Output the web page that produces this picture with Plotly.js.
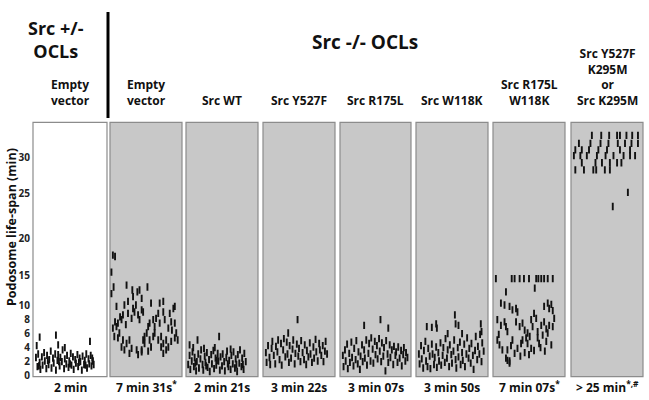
<!DOCTYPE html>
<html><head><meta charset="utf-8">
<script src="https://cdn.plot.ly/plotly-3.0.1.min.js"></script>
<style>html,body{margin:0;padding:0;background:#fff}#chart{width:649px;height:400px}</style>
</head><body><div id="chart"></div>
<script>
// ---------- DATA (x = position across panel 0..1, y = podosome life-span in minutes) ----------
const panelLabels = ["Empty<br>vector","Empty<br>vector","Src WT","Src Y527F","Src R175L","Src W118K","Src R175L<br>W118K","Src Y527F<br>K295M<br>or<br>Src K295M"];
const meanLabels = ["2 min","7 min 31s<sup>*</sup>","2 min 21s","3 min 22s","3 min 07s","3 min 50s","7 min 07s<sup>*</sup>","> 25 min<sup>*,#</sup>"];
const yTickValues = [0,2,4,6,8,10,15,20,25,30];

const emptyVectorHet = [[0.04,2.5],[0.06,1.2],[0.07,3.0],[0.09,1.8],[0.10,0.8],[0.12,2.6],[0.13,1.4],[0.15,3.2],[0.16,2.0],[0.18,0.9],[0.19,2.8],[0.21,1.5],[0.22,2.2],[0.24,3.4],[0.25,1.0],[0.27,2.4],[0.28,1.7],[0.30,3.0],[0.31,0.7],[0.33,2.1],[0.34,2.9],[0.36,1.3],[0.37,2.5],[0.39,1.9],[0.40,3.6],[0.42,0.9],[0.43,2.3],[0.45,1.6],[0.46,2.8],[0.48,1.1],[0.49,2.0],[0.51,3.1],[0.52,1.4],[0.54,2.6],[0.55,0.8],[0.57,2.2],[0.58,1.7],[0.60,2.9],[0.61,1.2],[0.63,2.4],[0.64,1.9],[0.66,0.7],[0.67,2.7],[0.69,1.5],[0.70,2.1],[0.72,3.0],[0.73,1.0],[0.75,2.3],[0.76,1.6],[0.78,2.8],[0.79,1.3],[0.81,2.0],[0.82,1.5],[0.05,4.2],[0.09,5.4],[0.31,5.7],[0.34,4.3],[0.43,3.9],[0.77,4.8],[0.08,1.3],[0.20,2.1],[0.35,1.9],[0.50,1.6],[0.62,1.8],[0.71,1.4],[0.80,2.4]];

const emptyVectorKO = [[0.04,17.7],[0.07,17.5],[0.02,15.4],[0.02,11.9],[0.05,13.0],[0.23,13.3],[0.31,12.5],[0.38,12.2],[0.41,12.5],[0.52,13.0],[0.32,11.4],[0.44,11.1],[0.57,10.3],[0.69,10.3],[0.74,10.6],[0.90,9.8],[0.09,9.8],[0.20,10.0],[0.25,10.6],[0.32,9.5],[0.36,10.0],[0.44,9.3],[0.46,9.0],[0.18,8.6],[0.16,7.9],[0.11,7.4],[0.07,7.6],[0.25,8.8],[0.30,8.1],[0.34,9.0],[0.39,8.6],[0.41,7.9],[0.60,7.9],[0.64,8.1],[0.67,8.8],[0.74,9.0],[0.83,8.8],[0.88,9.5],[0.55,7.4],[0.53,6.9],[0.62,6.9],[0.69,7.4],[0.76,7.9],[0.81,6.7],[0.85,7.6],[0.90,7.4],[0.04,6.7],[0.09,6.9],[0.13,6.0],[0.11,5.3],[0.06,5.5],[0.18,5.0],[0.23,4.5],[0.16,4.0],[0.20,3.6],[0.27,5.0],[0.30,3.8],[0.37,3.6],[0.44,3.3],[0.46,5.0],[0.48,5.5],[0.51,6.0],[0.48,4.5],[0.55,5.0],[0.60,5.5],[0.62,6.0],[0.67,5.0],[0.71,5.5],[0.74,4.5],[0.78,5.0],[0.81,4.0],[0.85,4.8],[0.90,5.3],[0.94,5.0],[0.92,6.0],[0.78,3.6],[0.74,3.1],[0.71,4.0],[0.57,4.0],[0.27,3.1],[0.39,2.9],[0.44,3.6],[0.53,3.4],[0.86,6.4],[0.14,8.3],[0.22,7.2]];

const srcWT = [[0.03,1.5],[0.05,2.8],[0.06,0.8],[0.08,2.0],[0.09,3.3],[0.11,1.2],[0.12,2.5],[0.14,0.6],[0.15,1.9],[0.17,3.0],[0.18,1.0],[0.20,2.3],[0.21,3.6],[0.23,1.5],[0.24,0.7],[0.26,2.7],[0.27,1.8],[0.29,3.2],[0.30,1.1],[0.32,2.2],[0.33,0.5],[0.35,2.9],[0.36,1.6],[0.38,3.5],[0.39,0.9],[0.41,2.4],[0.42,1.4],[0.44,3.1],[0.45,2.0],[0.47,0.7],[0.48,2.6],[0.50,1.3],[0.51,3.0],[0.53,1.9],[0.54,0.6],[0.56,2.5],[0.57,3.4],[0.59,1.2],[0.60,2.1],[0.62,0.8],[0.63,2.8],[0.65,1.6],[0.66,3.3],[0.68,1.0],[0.69,2.3],[0.71,0.5],[0.72,2.9],[0.74,1.7],[0.75,3.6],[0.77,1.2],[0.78,2.4],[0.80,0.8],[0.81,3.1],[0.83,1.9],[0.05,4.3],[0.16,5.0],[0.46,5.5],[0.10,3.9],[0.25,3.8],[0.40,3.9],[0.62,3.7],[0.13,1.7],[0.28,1.3],[0.43,2.1],[0.58,1.6],[0.70,1.5],[0.79,1.5]];

const srcY527F = [[0.04,3.2],[0.05,1.8],[0.07,4.2],[0.09,2.5],[0.10,1.5],[0.12,3.8],[0.13,4.8],[0.15,2.8],[0.17,1.6],[0.18,4.1],[0.20,3.3],[0.21,5.0],[0.23,2.2],[0.25,4.5],[0.26,1.4],[0.28,3.6],[0.29,5.2],[0.31,2.6],[0.33,4.7],[0.34,3.0],[0.36,1.8],[0.37,4.2],[0.39,2.4],[0.41,3.7],[0.42,5.0],[0.44,1.6],[0.45,3.1],[0.47,4.4],[0.49,2.7],[0.50,3.8],[0.52,1.9],[0.53,4.9],[0.55,3.2],[0.57,2.2],[0.58,4.3],[0.60,1.5],[0.61,3.5],[0.63,2.6],[0.65,4.6],[0.66,3.0],[0.68,1.8],[0.70,4.0],[0.71,2.4],[0.73,5.1],[0.74,3.3],[0.76,2.0],[0.78,4.5],[0.79,3.6],[0.81,2.8],[0.83,4.2],[0.84,1.9],[0.86,3.4],[0.87,4.8],[0.89,3.0],[0.35,6.0],[0.48,7.9]];

const srcR175L = [[0.04,2.8],[0.05,1.2],[0.07,3.6],[0.08,2.0],[0.10,4.4],[0.11,0.9],[0.13,3.1],[0.14,1.8],[0.16,4.7],[0.17,2.5],[0.19,1.3],[0.20,3.8],[0.22,2.2],[0.23,4.9],[0.25,1.6],[0.26,3.3],[0.28,0.8],[0.29,2.7],[0.31,4.3],[0.32,1.9],[0.34,3.6],[0.35,2.4],[0.37,5.0],[0.38,1.4],[0.40,3.1],[0.41,4.5],[0.43,2.0],[0.44,5.3],[0.46,3.7],[0.47,1.7],[0.49,4.8],[0.50,2.9],[0.52,4.2],[0.53,2.3],[0.55,5.2],[0.56,3.4],[0.58,1.9],[0.59,4.6],[0.61,2.7],[0.62,3.9],[0.64,0.6],[0.65,4.9],[0.67,3.0],[0.68,1.8],[0.70,4.3],[0.71,2.5],[0.73,3.6],[0.75,1.5],[0.76,4.1],[0.78,2.8],[0.79,3.3],[0.81,1.8],[0.82,4.0],[0.84,2.4],[0.86,3.5],[0.87,1.3],[0.89,2.9],[0.90,3.9],[0.92,2.0],[0.93,3.2],[0.95,2.5],[0.34,7.1],[0.57,7.9],[0.68,6.7]];

const srcW118K = [[0.04,3.0],[0.05,1.6],[0.07,4.2],[0.08,2.3],[0.10,1.0],[0.11,3.5],[0.13,4.8],[0.14,2.0],[0.16,1.2],[0.17,3.8],[0.19,2.7],[0.20,0.9],[0.22,4.4],[0.23,3.0],[0.25,1.5],[0.26,2.5],[0.28,4.0],[0.29,1.1],[0.31,3.2],[0.32,2.0],[0.34,4.6],[0.35,1.4],[0.37,2.8],[0.38,3.9],[0.40,1.8],[0.41,5.2],[0.43,2.4],[0.44,3.6],[0.46,1.2],[0.47,4.3],[0.49,2.9],[0.50,1.7],[0.52,3.4],[0.53,5.0],[0.55,2.2],[0.56,1.0],[0.58,3.9],[0.59,2.6],[0.61,4.7],[0.62,1.5],[0.64,3.2],[0.65,2.1],[0.67,4.4],[0.68,1.2],[0.70,3.0],[0.71,5.3],[0.73,2.4],[0.74,3.8],[0.76,1.7],[0.77,4.5],[0.79,2.8],[0.80,0.8],[0.82,3.5],[0.83,5.5],[0.85,2.2],[0.86,4.1],[0.88,3.0],[0.89,5.8],[0.91,1.9],[0.92,4.6],[0.94,3.4],[0.54,8.6],[0.55,7.3],[0.59,7.1],[0.15,6.9],[0.22,6.8],[0.28,7.3],[0.29,6.7],[0.90,7.3],[0.91,6.2],[0.44,5.9],[0.64,5.9]];

const srcR175LW118K = [[0.04,14.4],[0.26,14.4],[0.30,14.4],[0.37,14.4],[0.43,14.4],[0.50,14.4],[0.60,14.4],[0.63,14.4],[0.67,14.4],[0.71,14.4],[0.76,14.4],[0.83,14.4],[0.58,12.8],[0.18,12.2],[0.11,10.3],[0.16,10.0],[0.23,9.8],[0.27,9.3],[0.32,9.5],[0.34,9.0],[0.71,9.8],[0.76,10.3],[0.78,9.5],[0.81,10.1],[0.83,9.2],[0.06,7.9],[0.11,7.1],[0.16,7.6],[0.18,6.9],[0.20,6.2],[0.32,7.6],[0.37,6.9],[0.41,7.4],[0.44,6.4],[0.48,6.0],[0.53,7.9],[0.57,8.8],[0.60,8.1],[0.55,6.9],[0.62,6.2],[0.67,7.1],[0.71,7.6],[0.74,6.6],[0.78,7.1],[0.83,6.9],[0.85,8.1],[0.06,5.0],[0.09,4.3],[0.13,3.6],[0.18,2.4],[0.23,2.0],[0.20,3.6],[0.27,5.0],[0.34,3.8],[0.39,4.5],[0.41,5.0],[0.46,5.3],[0.48,4.5],[0.51,5.5],[0.53,3.8],[0.62,5.3],[0.64,4.5],[0.69,5.7],[0.74,4.8],[0.76,6.0],[0.81,4.3],[0.25,4.2],[0.30,3.1],[0.44,3.2],[0.57,3.5],[0.66,3.9],[0.72,3.4],[0.20,2.1],[0.23,1.7],[0.08,5.8],[0.38,2.7],[0.50,2.9]];

const srcK295M = [[0.29,33.0],[0.42,33.0],[0.53,33.0],[0.64,33.0],[0.68,33.0],[0.77,33.0],[0.85,33.0],[0.93,33.0],[0.11,31.9],[0.27,31.9],[0.41,31.9],[0.52,31.9],[0.65,31.9],[0.75,31.9],[0.84,31.9],[0.93,31.9],[0.06,31.0],[0.15,31.0],[0.25,31.0],[0.38,31.0],[0.50,31.0],[0.68,31.0],[0.82,31.0],[0.04,30.2],[0.13,30.2],[0.22,30.2],[0.36,30.2],[0.48,30.2],[0.59,30.2],[0.73,30.2],[0.82,30.2],[0.89,30.2],[0.15,29.2],[0.34,29.2],[0.43,29.2],[0.54,29.2],[0.64,29.2],[0.70,29.2],[0.06,28.2],[0.18,28.2],[0.31,28.2],[0.35,28.2],[0.47,28.2],[0.54,28.2],[0.79,25.1],[0.58,23.5]];

const panelData = [emptyVectorHet, emptyVectorKO, srcWT, srcY527F, srcR175L, srcW118K, srcR175LW118K, srcK295M];

// ---------- SCALE: the figure's y axis is piecewise (minutes -> axis units) ----------
const knotMin = [0,10,15,20,25,30,35];
const knotUnit = [0,70,100,137,182,218,254];
function yScale(v){
  for (let i=1;i<knotMin.length;i++){
    if (v<=knotMin[i]){ const t=(v-knotMin[i-1])/(knotMin[i]-knotMin[i-1]); return knotUnit[i-1]+t*(knotUnit[i]-knotUnit[i-1]); }
  }
  return knotUnit[knotUnit.length-1];
}

// ---------- LAYOUT ----------
const W=649,H=400;
const px = x => x/W, py = y => 1-y/H;
const panelPx = [[33,107],[110,182],[186,258],[263,335],[340,411],[416,488],[493,565],[571,643]];
const yDom = [py(376.7), py(122.3)];
const traces=[], layout={
  width:W, height:H, margin:{l:0,r:0,t:0,b:0}, paper_bgcolor:'#fff', plot_bgcolor:'rgba(0,0,0,0)',
  showlegend:false, shapes:[], annotations:[],
  font:{family:'Open Sans, DejaVu Sans, sans-serif', color:'#111'}
};
layout.yaxis = {domain:yDom, range:[-1.7,252.7], tickvals:yTickValues.map(yScale), ticktext:yTickValues.map(String),
  showgrid:false, zeroline:false, showline:false, ticks:'', ticklabelstandoff:2, tickfont:{size:10, weight:'bold', color:'#222'}, anchor:'x', fixedrange:true};
panelData.forEach((d,i)=>{
  const ax = i===0?'x':'x'+(i+1);
  const key = i===0?'xaxis':'xaxis'+(i+1);
  layout[key] = {domain:[px(panelPx[i][0]),px(panelPx[i][1])], range:[0,1], showgrid:false, zeroline:false, showticklabels:false, ticks:'', anchor:'y', fixedrange:true};
  layout.shapes.push({type:'rect', xref:ax+' domain', yref:'y domain', x0:0,x1:1,y0:0,y1:1,
    fillcolor: i===0?'#ffffff':'#c8c8c8', line:{color:'#8c8c8c', width:1.2}, layer:'below'});
  traces.push({type:'scatter', mode:'markers', xaxis:ax, yaxis:'y',
    x:d.map(p=>p[0]), y:d.map(p=>yScale(p[1])),
    marker:{symbol:'line-ns', size:5.2, line:{width:1.9, color:'#111'}}, hoverinfo:'skip'});
  const cx = (panelPx[i][0]+panelPx[i][1])/2;
  layout.annotations.push({xref:'paper', yref:'paper', x:px(cx), y:py(111), xanchor:'center', yanchor:'bottom',
    text:'<b>'+panelLabels[i]+'</b>', showarrow:false, font:{size:12}, align:'center'});
  layout.annotations.push({xref:'paper', yref:'paper', x:px(cx), y:py(387), xanchor:'center', yanchor:'middle',
    text:'<b>'+meanLabels[i]+'</b>', showarrow:false, font:{size:12}});
});
layout.annotations.push({xref:'paper', yref:'paper', x:px(56), y:py(39), xanchor:'center', yanchor:'middle',
  text:'<b>Src +/-<br>OCLs</b>', showarrow:false, font:{size:18}, align:'center'});
layout.annotations.push({xref:'paper', yref:'paper', x:px(365), y:py(42), xanchor:'center', yanchor:'middle',
  text:'<b>Src -/- OCLs</b>', showarrow:false, font:{size:19}});
layout.annotations.push({xref:'paper', yref:'paper', x:px(11), y:py(227), xanchor:'center', yanchor:'middle', textangle:-90,
  text:'<b>Podosome life-span (min)</b>', showarrow:false, font:{size:12.5}});
layout.shapes.push({type:'line', xref:'paper', yref:'paper', x0:px(108), x1:px(108), y0:py(12), y1:py(118), line:{color:'#000', width:3}});

Plotly.newPlot('chart', traces, layout, {displayModeBar:false, staticPlot:true});
</script></body></html>
